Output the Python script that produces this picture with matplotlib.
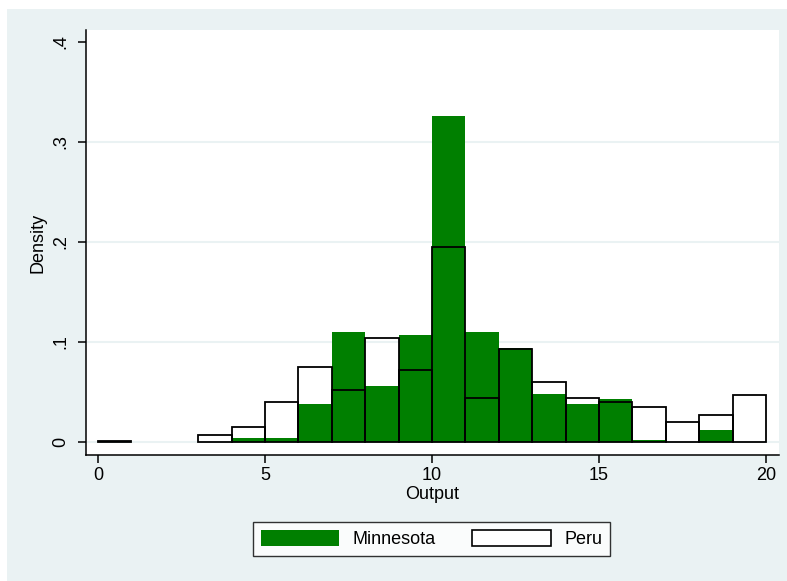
import matplotlib
matplotlib.use("Agg")
import matplotlib.pyplot as plt
from matplotlib.patches import Patch, Rectangle
import numpy as np

plt.rcParams['font.family'] = ['Liberation Sans', 'DejaVu Sans']

# Histogram bins (width 1, from 0 to 20) and density per bin
bin_edges = list(range(0, 21))
minnesota = [0.000, 0.000, 0.000, 0.000, 0.004, 0.004, 0.038, 0.110, 0.056, 0.107,
             0.326, 0.110, 0.094, 0.048, 0.038, 0.043, 0.002, 0.000, 0.012, 0.000]
peru = [0.001, 0.000, 0.000, 0.007, 0.015, 0.040, 0.075, 0.052, 0.104, 0.072,
        0.195, 0.044, 0.093, 0.060, 0.044, 0.040, 0.035, 0.020, 0.027, 0.047]

x_ticks = [0, 5, 10, 15, 20]
y_ticks = [0, 0.1, 0.2, 0.3, 0.4]
y_tick_labels = ["0", ".1", ".2", ".3", ".4"]

GREEN = "#007f00"
BG = "#eaf2f3"

W, H = 787, 581
fig = plt.figure(figsize=(W / 100, H / 100), dpi=100)
fig.patch.set_facecolor("white")
fig.patches.append(Rectangle((7 / W, 0), 1 - 7 / W, (H - 9) / H,
                             transform=fig.transFigure, facecolor=BG,
                             edgecolor="none", zorder=-10))

left, right, top, bottom = 86, 779, 30, 455
ax = fig.add_axes([left / W, (H - bottom) / H, (right - left) / W, (bottom - top) / H])
ax.set_facecolor("white")

lefts = np.array(bin_edges[:-1])
widths = np.diff(bin_edges)
mn = np.array(minnesota)
pe = np.array(peru)

# empty bins are left out so no outline is drawn along the baseline
m_keep = mn > 0
p_keep = pe > 0
ax.bar(lefts[m_keep], mn[m_keep], width=widths[m_keep], align="edge", color=GREEN,
       edgecolor="none", zorder=2)
ax.bar(lefts[p_keep], pe[p_keep], width=widths[p_keep], align="edge", facecolor="none",
       edgecolor="black", linewidth=1.3, zorder=3)

ax.set_xlim(-0.36, 20.39)
ax.set_ylim(-0.013, 0.412)

for yv in y_ticks[:-1]:
    ax.axhline(yv, color=BG, linewidth=1.5, zorder=1)

ax.set_xticks(x_ticks)
ax.set_yticks(y_ticks)
ax.set_yticklabels(y_tick_labels, rotation=90, va="center")
ax.tick_params(axis="both", direction="out", length=6, width=1.1,
               labelsize=13, colors="black")
ax.tick_params(axis="y", pad=6)
ax.tick_params(axis="x", pad=3)

for s in ("top", "right"):
    ax.spines[s].set_visible(False)
for s in ("left", "bottom"):
    ax.spines[s].set_linewidth(1.1)

ax.set_xlabel("Output", fontsize=13, labelpad=1)
ax.set_ylabel("Density", fontsize=13, labelpad=4)

handles = [Patch(facecolor=GREEN, edgecolor="none", label="Minnesota"),
           Patch(facecolor="white", edgecolor="black", linewidth=1.2, label="Peru")]
leg = fig.legend(handles=handles, loc="center",
                 bbox_to_anchor=(431.5 / W, (H - 539) / H), ncol=2,
                 fontsize=13, frameon=True, fancybox=False, edgecolor="black",
                 handlelength=4.35, handleheight=1.05, handletextpad=0.75,
                 columnspacing=2.0, borderpad=0.45, borderaxespad=0)
leg.get_frame().set_linewidth(1.0)
leg.get_frame().set_facecolor("white")

fig.savefig("out.png", dpi=100, facecolor=fig.get_facecolor())
